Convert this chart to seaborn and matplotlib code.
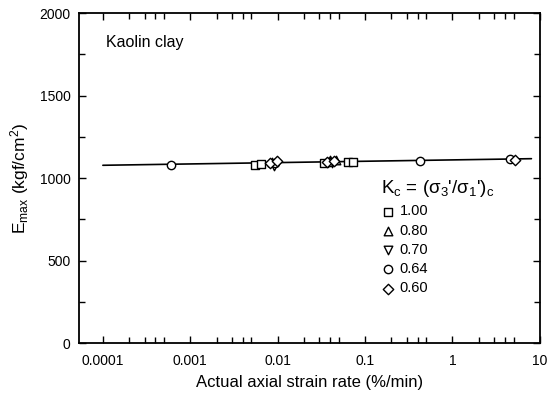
import matplotlib
matplotlib.use("Agg")
import matplotlib.pyplot as plt
import matplotlib.ticker as mticker
import seaborn as sns
import pandas as pd

# data
kc_labels = ["1.00", "0.80", "0.70", "0.64", "0.60"]
sq_x = [0.0055, 0.0064, 0.034, 0.064, 0.073]
sq_E = [1082, 1085, 1090, 1100, 1100]
tri_x = [0.0085, 0.040, 0.046]
tri_E = [1100, 1110, 1112]
itri_x = [0.0090, 0.042]
itri_E = [1072, 1092]
cir_x = [0.0006, 0.0092, 0.039, 0.42, 4.6]
cir_E = [1082, 1092, 1098, 1102, 1115]
dia_x = [0.0082, 0.0098, 0.037, 0.044, 5.2]
dia_E = [1090, 1105, 1095, 1102, 1112]
fit_x = [0.0001, 8.0]
fit_E = [1078, 1118]
xtick_vals = [0.0001, 0.001, 0.01, 0.1, 1, 10]
xtick_labels = ["0.0001", "0.001", "0.01", "0.1", "1", "10"]
ytick_vals = [0, 500, 1000, 1500, 2000]

rows = []
for lab, xs, es in zip(kc_labels, [sq_x, tri_x, itri_x, cir_x, dia_x],
                       [sq_E, tri_E, itri_E, cir_E, dia_E]):
    for x, e in zip(xs, es):
        rows.append({"rate": x, "E": e, "Kc": lab})
df = pd.DataFrame(rows)
fit_df = pd.DataFrame({"rate": fit_x, "E": fit_E})

sns.set_style("ticks")
plt.rcParams["font.family"] = ["Liberation Sans", "DejaVu Sans"]
plt.rcParams["mathtext.fontset"] = "custom"
plt.rcParams["mathtext.rm"] = "Liberation Sans"
plt.rcParams["mathtext.it"] = "Liberation Sans"
for k in ["text.color", "axes.labelcolor", "xtick.color", "ytick.color", "axes.edgecolor"]:
    plt.rcParams[k] = "black"

fig = plt.figure(figsize=(5.47, 3.99), dpi=100)
ax = fig.add_axes([0.144, 0.140, 0.843, 0.827])

sns.lineplot(data=fit_df, x="rate", y="E", ax=ax, color="black", lw=1.2, legend=False)
markers = {"1.00": "s", "0.80": "^", "0.70": "v", "0.64": "o", "0.60": "D"}
sizes = {"1.00": 32, "0.80": 38, "0.70": 38, "0.64": 36, "0.60": 28}
for lab in kc_labels:
    sub = df[df["Kc"] == lab]
    sns.scatterplot(data=sub, x="rate", y="E", ax=ax, marker=markers[lab],
                    s=sizes[lab], facecolor="white", edgecolor="black",
                    linewidth=1.0, label=lab, zorder=3)

ax.set_xscale("log")
ax.set_xlim(5.3e-5, 10)
ax.set_ylim(0, 2000)
ax.set_xticks(xtick_vals)
ax.set_xticklabels(xtick_labels)
ax.xaxis.set_minor_locator(mticker.LogLocator(base=10, subs=[2, 3, 4, 5], numticks=20))
ax.xaxis.set_minor_formatter(mticker.NullFormatter())
ax.set_yticks(ytick_vals)
ax.yaxis.set_minor_locator(mticker.MultipleLocator(250))
ax.tick_params(which="both", direction="in", top=True, right=True, labelsize=10, width=1,
               colors="black")
ax.tick_params(which="major", length=5)
ax.tick_params(which="minor", length=4)
ax.tick_params(axis="x", which="major", pad=8)
ax.tick_params(axis="y", which="major", pad=6)
for sp in ax.spines.values():
    sp.set_linewidth(1.3)
    sp.set_color("black")

ax.set_xlabel("Actual axial strain rate (%/min)", fontsize=12, labelpad=5)
ax.set_ylabel(r"E$_{\rm max}$ (kgf/cm$^2$)", fontsize=12.5, labelpad=6)
ax.text(0.06, 0.912, "Kaolin clay", transform=ax.transAxes, fontsize=11.5, va="center")

leg = ax.legend(title="K$_c$ = (σ$_3$'/σ$_1$')$_c$", loc="upper left",
                bbox_to_anchor=(0.655, 0.50), frameon=False, fontsize=10.5,
                title_fontsize=13.5, handletextpad=0.3, labelspacing=0.36,
                borderaxespad=0, handlelength=1.0, borderpad=0)
leg._legend_box.align = "left"
for t in leg.get_texts():
    t.set_color("black")
leg.get_title().set_color("black")

fig.savefig("out.png", dpi=100)
